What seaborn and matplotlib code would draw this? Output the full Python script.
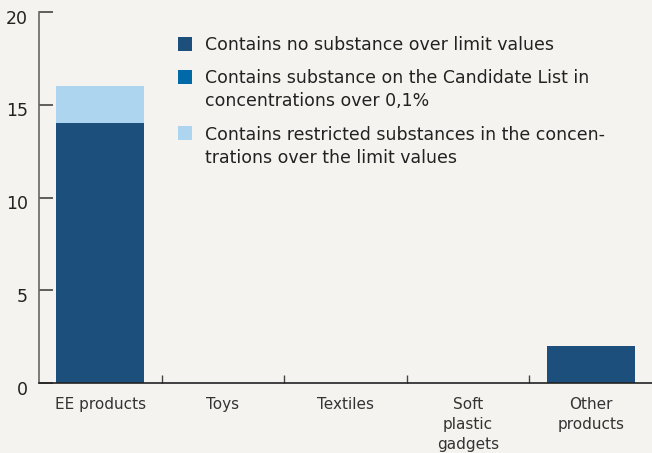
import pandas as pd
import seaborn as sns
import matplotlib.pyplot as plt
import matplotlib.transforms as mtransforms
from matplotlib.patches import Patch

# Datos del gráfico
categorias = ['EE products', 'Toys', 'Textiles', 'Soft\nplastic\ngadgets', 'Other\nproducts']
sin_sustancia = [14, 0, 0, 0, 2]
lista_candidata = [0, 0, 0, 0, 0]
restringidas = [2, 0, 0, 0, 0]

etiquetas = ['Contains no substance over limit values',
             'Contains substance on the Candidate List in\nconcentrations over 0,1%',
             'Contains restricted substances in the concen-\ntrations over the limit values']
colores = ['#1c4f7c', '#006aa8', '#aed5ef']
fondo = '#f4f3ef'

df = pd.DataFrame({'cat': categorias, 'a': sin_sustancia, 'b': lista_candidata, 'c': restringidas})
df['ab'] = df['a'] + df['b']
df['abc'] = df['ab'] + df['c']

sns.set_style('white')
plt.rcParams['font.family'] = ['DejaVu Sans']

fig = plt.figure(figsize=(6.52, 4.53), dpi=100, facecolor=fondo)
ax = fig.add_axes([0.0598, 0.1545, 0.9402, 0.819])
ax.set_facecolor(fondo)

# Barras apiladas: dibujo los acumulados de arriba hacia abajo
for col, c in zip(['abc', 'ab', 'a'], colores[::-1]):
    sns.barplot(x='cat', y=col, data=df, color=c, width=0.72, saturation=1,
                linewidth=0, ax=ax)

ax.set_xlim(-0.5, 4.5)
ax.set_ylim(0, 20)
ax.set_yticks([0, 5, 10, 15, 20])
ax.set_xlabel('')
ax.set_ylabel('')

for s in ['top', 'right']:
    ax.spines[s].set_visible(False)
ax.spines['left'].set_color('#666666')
ax.spines['left'].set_linewidth(1.2)
ax.spines['bottom'].set_color('#222222')
ax.spines['bottom'].set_linewidth(1.2)

ax.tick_params(axis='y', direction='in', length=10, width=1.2, color='#444444',
               labelsize=12.5, labelcolor='#222222', pad=8, left=True)
# las etiquetas del eje y van un poco por debajo de la marca
desplazo = mtransforms.ScaledTranslation(0, -4.5 / 100, fig.dpi_scale_trans)
for t in ax.get_yticklabels():
    t.set_transform(t.get_transform() + desplazo)

ax.tick_params(axis='x', which='major', length=0, labelsize=11, labelcolor='#333333', pad=10)
for t in ax.get_xticklabels():
    t.set_linespacing(1.4)
ax.set_xticks([0.5, 1.5, 2.5, 3.5], minor=True)
ax.tick_params(axis='x', which='minor', direction='in', length=6, width=1, color='#444444', bottom=True)

handles = [Patch(facecolor=c, edgecolor='none') for c in colores]
leg = ax.legend(handles, etiquetas, loc='upper left', bbox_to_anchor=(0.216, 0.955),
                frameon=False, fontsize=12.5, handlelength=0.85, handleheight=0.85,
                handletextpad=0.7, labelspacing=0.9, borderaxespad=0)
for t in leg.get_texts():
    t.set_color('#222222')
    t.set_linespacing(1.35)
for i, h in enumerate(leg.legend_handles):
    h.set_height(10)
    h.set_width(10)
    if i > 0:
        # cuadrado alineado con la primera línea del texto
        h.set_y(h.get_y() + 10)

fig.savefig('out.png', dpi=100, facecolor=fondo)
